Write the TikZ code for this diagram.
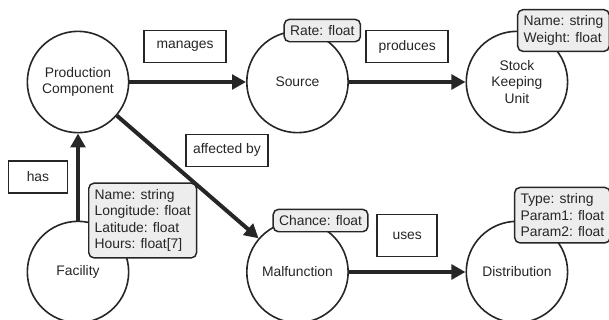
\documentclass[tikz,border=0pt]{standalone}
\usepackage{fontspec}
\setmainfont{Liberation Sans}
\usetikzlibrary{arrows.meta, positioning}

\begin{document}
\begin{tikzpicture}[
    node distance=142.5pt and 164.6pt,
    font=\fontsize{10.4}{12.4}\selectfont,
    every node/.style={text=black!85},
    entity/.style={circle, on grid, draw=black!85, line width=1.2pt, minimum size=76pt, align=center},
    attr/.style={rectangle, draw=black!85, line width=1.1pt, rounded corners=4pt, fill=black!7, align=left, inner xsep=4.4pt, inner ysep=4.6pt, anchor=west},
    tag/.style={rectangle, draw=black!85, line width=1.1pt, minimum width=61.5pt, minimum height=24pt},
    arrow/.style={-{Triangle[length=10.5pt, width=11pt]}, line width=3pt, draw=black!85},
]
\useasboundingbox (0,0) rectangle (456.75pt,-240pt);

\node[entity] (pc) at (58.5pt,-61.5pt) {Production\\Component};
\node[entity, right=of pc] (src) {Source};
\node[entity, right=of src] (sku) {Stock\\Keeping\\Unit};
\node[entity, below=of pc] (fac) {Facility};
\node[entity, below=of src] (mal) {Malfunction};
\node[entity, below=of sku] (dist) {Distribution};

\node[attr, xshift=-10.5pt] (srcattr) at (src.north) {Rate: float};
\node[attr] (skuattr) at (sku.north) {Name: string\\Weight: float};
\node[attr, xshift=7.5pt] (facattr) at (fac.north) {Name: string\\Longitude: float\\Latitude: float\\Hours: float[7]};
\node[attr, xshift=-18.75pt] (malattr) at (mal.north) {Chance: float};
\node[attr, xshift=-2.25pt, yshift=4pt] (distattr) at (dist.north) {Type: string\\Param1: float\\Param2: float};

\draw[arrow] (pc) -- node[tag, above=14pt, xshift=-2pt] {manages} (src);
\draw[arrow] (src) -- node[tag, above=14pt] {produces} (sku);
\draw[arrow] (pc) -- node[tag, anchor=south west, xshift=-1.9pt, yshift=7.5pt] {affected by} (mal);
\draw[arrow] (fac) -- node[tag, left=7.5pt, minimum width=44pt] {has} (pc);
\draw[arrow] (mal) -- node[tag, above=11pt, minimum width=45pt, minimum height=31.5pt] {uses} (dist);

\end{tikzpicture}
\end{document}
